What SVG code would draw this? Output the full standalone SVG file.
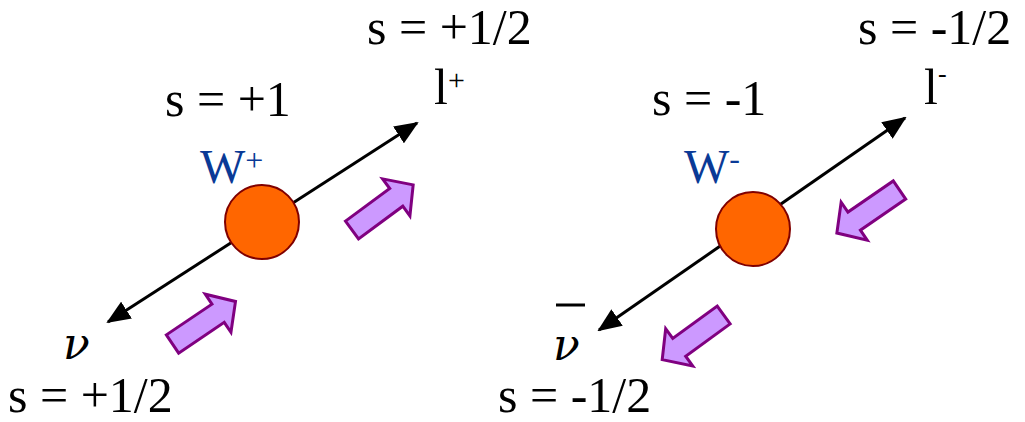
<svg xmlns="http://www.w3.org/2000/svg" width="1025" height="422" viewBox="0 0 1025 422">
<style>
.t{font-family:"Liberation Serif","Times New Roman",serif;font-size:50px;fill:#000}
.w{font-family:"Liberation Serif","Times New Roman",serif;font-size:48px;fill:#0a3a96}
.nu{font-family:"DejaVu Serif",serif;font-size:44px;font-style:italic;fill:#000}
.ln{stroke:#000;stroke-width:3;fill:none}
.boson{fill:#ff6600;stroke:#800000;stroke-width:2}
.spin{fill:#cc99ff;stroke:#800080;stroke-width:3;stroke-linejoin:miter}
</style>
<defs>
<marker id="ah" viewBox="0 0 24 20" refX="22" refY="10" markerWidth="24" markerHeight="20" markerUnits="userSpaceOnUse" orient="auto-start-reverse">
<path d="M0,0 L24,10 L0,20 Z" fill="#000"/>
</marker>
<polygon id="blk" points="0,-11 55,-11 55,-23 76,0 55,23 55,11 0,11"/>
</defs>
<g id="connectors">
<line class="ln" x1="108" y1="322" x2="417" y2="123" marker-start="url(#ah)" marker-end="url(#ah)"/>
<line class="ln" x1="599" y1="330" x2="905" y2="118" marker-start="url(#ah)" marker-end="url(#ah)"/>
</g>
<g id="W-plus">
<circle class="boson" cx="262" cy="222" r="37"/>
<text class="w" x="200" y="183">W<tspan font-size="32" dy="-12">+</tspan></text>
<text class="t" x="165" y="116">s = +1</text>
</g>
<g id="W-minus">
<circle class="boson" cx="753" cy="229" r="37"/>
<text class="w" x="684" y="183">W<tspan font-size="32" dy="-14">-</tspan></text>
<text class="t" x="652" y="115">s = -1</text>
</g>
<g id="lepton-plus">
<text class="t" x="434" y="104">l<tspan font-size="30" dy="-14">+</tspan></text>
<text class="t" x="367" y="44">s = +1/2</text>
</g>
<g id="neutrino">
<text class="nu" x="63" y="359">ν</text>
<text class="t" x="8" y="412">s = +1/2</text>
</g>
<g id="lepton-minus">
<text class="t" x="924" y="104">l<tspan font-size="26" dy="-22">-</tspan></text>
<text class="t" x="858" y="44">s = -1/2</text>
</g>
<g id="antineutrino">
<text class="nu" x="553" y="360">ν</text>
<line x1="556" y1="305" x2="585" y2="305" stroke="#000" stroke-width="3"/>
<text class="t" x="498" y="412">s = -1/2</text>
</g>
<g id="spin-arrows">
<use href="#blk" class="spin" transform="translate(352,230) rotate(-36.4)"/>
<use href="#blk" class="spin" transform="translate(172.5,344) rotate(-34)"/>
<use href="#blk" class="spin" transform="translate(899.5,190) rotate(145.5)"/>
<use href="#blk" class="spin" transform="translate(723.7,315) rotate(144)"/>
</g>
</svg>
